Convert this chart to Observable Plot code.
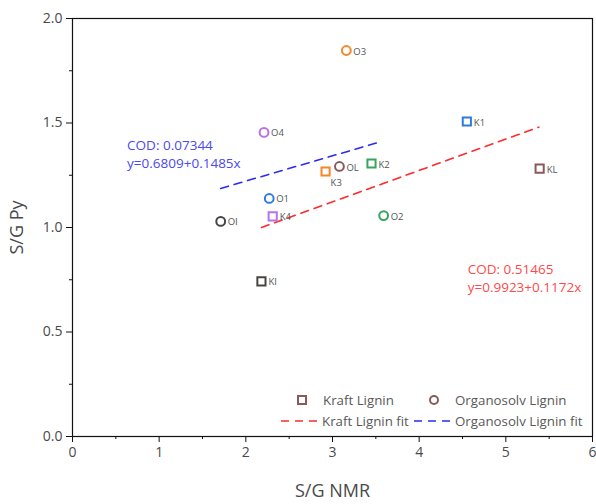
<!DOCTYPE html>
<html><head><meta charset="utf-8">
<script src="https://cdn.jsdelivr.net/npm/d3@7"></script>
<script src="https://cdn.jsdelivr.net/npm/@observablehq/plot@0.6"></script>
<style>
body{margin:0;background:#fff;font-family:"Open Sans",sans-serif;}
#wrap{position:relative;width:596px;height:504px;}
#wrap svg{display:block;}
.leg{position:absolute;font-size:13.3px;color:#595959;white-space:nowrap;display:flex;align-items:center;}
.leg svg{display:inline-block;}
</style></head><body><div id="wrap"></div>
<script>
// sample data (S/G from NMR vs S/G from Py-GC/MS)
const names  = ["K1","K2","K3","K4","KL","KI","O1","O2","O3","O4","OL","OI"];
const group  = ["Kraft","Kraft","Kraft","Kraft","Kraft","Kraft","Organosolv","Organosolv","Organosolv","Organosolv","Organosolv","Organosolv"];
const sample = ["1","2","3","4","L","I","1","2","3","4","L","I"];
const nmr    = [4.55, 3.45, 2.92, 2.31, 5.39, 2.18, 2.27, 3.59, 3.16, 2.21, 3.08, 1.71];
const py     = [1.507, 1.306, 1.268, 1.053, 1.282, 0.742, 1.139, 1.057, 1.847, 1.455, 1.292, 1.029];

// fitted lines (as drawn)
const kraftFitX = [2.18, 5.38];
const kraftFitY = [1.00, 1.48];
const orgFitX   = [1.71, 3.53];
const orgFitY   = [1.187, 1.407];

// annotations
const annText = ["COD: 0.07344","y=0.6809+0.1485x","COD: 0.51465","y=0.9923+0.1172x"];
const annX    = [0.63, 0.63, 4.56, 4.56];
const annY    = [1.392, 1.306, 0.797, 0.711];
const annFit  = ["Organosolv","Organosolv","Kraft","Kraft"];

// axis ticks
const xTicks = [0,1,2,3,4,5,6];
const xMinor = [0.5,1.5,2.5,3.5,4.5,5.5];
const yTicks = [0,0.5,1,1.5,2];
const yMinor = [0.25,0.75,1.25,1.75];

const palette = {"1":"#2f7be0","2":"#3aa45e","3":"#f5862a","4":"#b772e6","L":"#8a5a5a","I":"#454545"};
const pts = names.map((n,i)=>({name:n, group:group[i], sample:sample[i], x:nmr[i], y:py[i]}));
const fits = [
  ...kraftFitX.map((x,i)=>({fit:"Kraft", x, y:kraftFitY[i]})),
  ...orgFitX.map((x,i)=>({fit:"Organosolv", x, y:orgFitY[i]}))
];
const anns = annText.map((t,i)=>({t, x:annX[i], y:annY[i], fit:annFit[i]}));
const fitColor = {Kraft:"#ff2a2a", Organosolv:"#2b2bf5"};
const annColor = {Kraft:"#ff4a4a", Organosolv:"#4a4af0"};

const chart = Plot.plot({
  width: 596, height: 504,
  marginLeft: 72, marginRight: 4, marginTop: 18, marginBottom: 68,
  style: {fontFamily: "'Open Sans', sans-serif", color: "#333", background: "#fff"},
  x: {domain: [0, 6]},
  y: {domain: [0, 2]},
  marks: [
    Plot.axisX(xMinor, {tickSize: 3, text: null, label: null, stroke: "#111"}),
    Plot.axisY(yMinor, {tickSize: 3, text: null, label: null, stroke: "#111"}),
    Plot.axisX(xTicks, {tickSize: 6, tickPadding: 5, fontSize: 14, fill: "#4a4a4a", stroke: "#111",
      label: "S/G NMR", labelAnchor: "center", labelArrow: "none", labelOffset: 60}),
    Plot.axisY(yTicks, {tickSize: 6, tickPadding: 4, fontSize: 14, fill: "#4a4a4a", stroke: "#111",
      tickFormat: d3.format(".1f"),
      label: "S/G Py", labelAnchor: "center", labelArrow: "none", labelOffset: 62}),
    Plot.frame({stroke: "#111", strokeWidth: 1.2}),
    Plot.line(fits, {x: "x", y: "y", z: "fit", stroke: d => fitColor[d.fit], strokeWidth: 1.6, strokeDasharray: "8,6"}),
    Plot.dot(pts.filter(d => d.group === "Kraft"), {x: "x", y: "y", symbol: "square", r: 4.6,
      stroke: d => palette[d.sample], strokeWidth: 2, fill: "white"}),
    Plot.dot(pts.filter(d => d.group === "Organosolv"), {x: "x", y: "y", symbol: "circle", r: 4.4,
      stroke: d => palette[d.sample], strokeWidth: 2, fill: "white"}),
    Plot.text(pts.filter(d => d.name !== "K3"), {x: "x", y: "y", text: "name", textAnchor: "start", dx: 7, dy: 1,
      fontSize: 9.5, fill: "#555"}),
    Plot.text(pts.filter(d => d.name === "K3"), {x: "x", y: "y", text: "name", textAnchor: "start", dx: 5, dy: 11,
      fontSize: 9.5, fill: "#555"}),
    Plot.text(anns, {x: "x", y: "y", text: "t", textAnchor: "start", fontSize: 13.5, fill: d => annColor[d.fit]})
  ]
});
const wrap = document.getElementById("wrap");
wrap.appendChild(chart);
chart.querySelectorAll("g[aria-label='x-axis label'] text, g[aria-label='y-axis label'] text").forEach(t => {
  t.setAttribute("font-size", "18"); t.style.fontSize = "18px"; t.setAttribute("fill", "#4a4a4a");
});

// legend
const legendItems = [
  {label: "Kraft Lignin", icon: `<rect x="4" y="3" width="8" height="8" fill="none" stroke="#8a5a5a" stroke-width="2"/>`, left: 294, top: 400, w: 16},
  {label: "Organosolv Lignin", icon: `<circle cx="8" cy="7" r="4" fill="none" stroke="#8a5a5a" stroke-width="2"/>`, left: 426, top: 400, w: 16},
  {label: "Kraft Lignin fit", icon: `<line x1="0" y1="7" x2="40" y2="7" stroke="#ff2a2a" stroke-width="1.6" stroke-dasharray="8,6"/>`, left: 281, top: 421, w: 40},
  {label: "Organosolv Lignin fit", icon: `<line x1="0" y1="7" x2="40" y2="7" stroke="#2b2bf5" stroke-width="1.6" stroke-dasharray="8,6"/>`, left: 414, top: 421, w: 40}
];
legendItems.forEach(it => {
  const d = document.createElement("div");
  d.className = "leg";
  d.style.left = it.left + "px";
  d.style.top = (it.top - 9) + "px";
  d.style.height = "18px";
  const gap = it.w > 20 ? 1 : 13;
  d.innerHTML = `<svg width="${it.w}" height="14" style="margin-right:${gap}px">${it.icon}</svg><span>${it.label}</span>`;
  wrap.appendChild(d);
});
</script></body></html>
